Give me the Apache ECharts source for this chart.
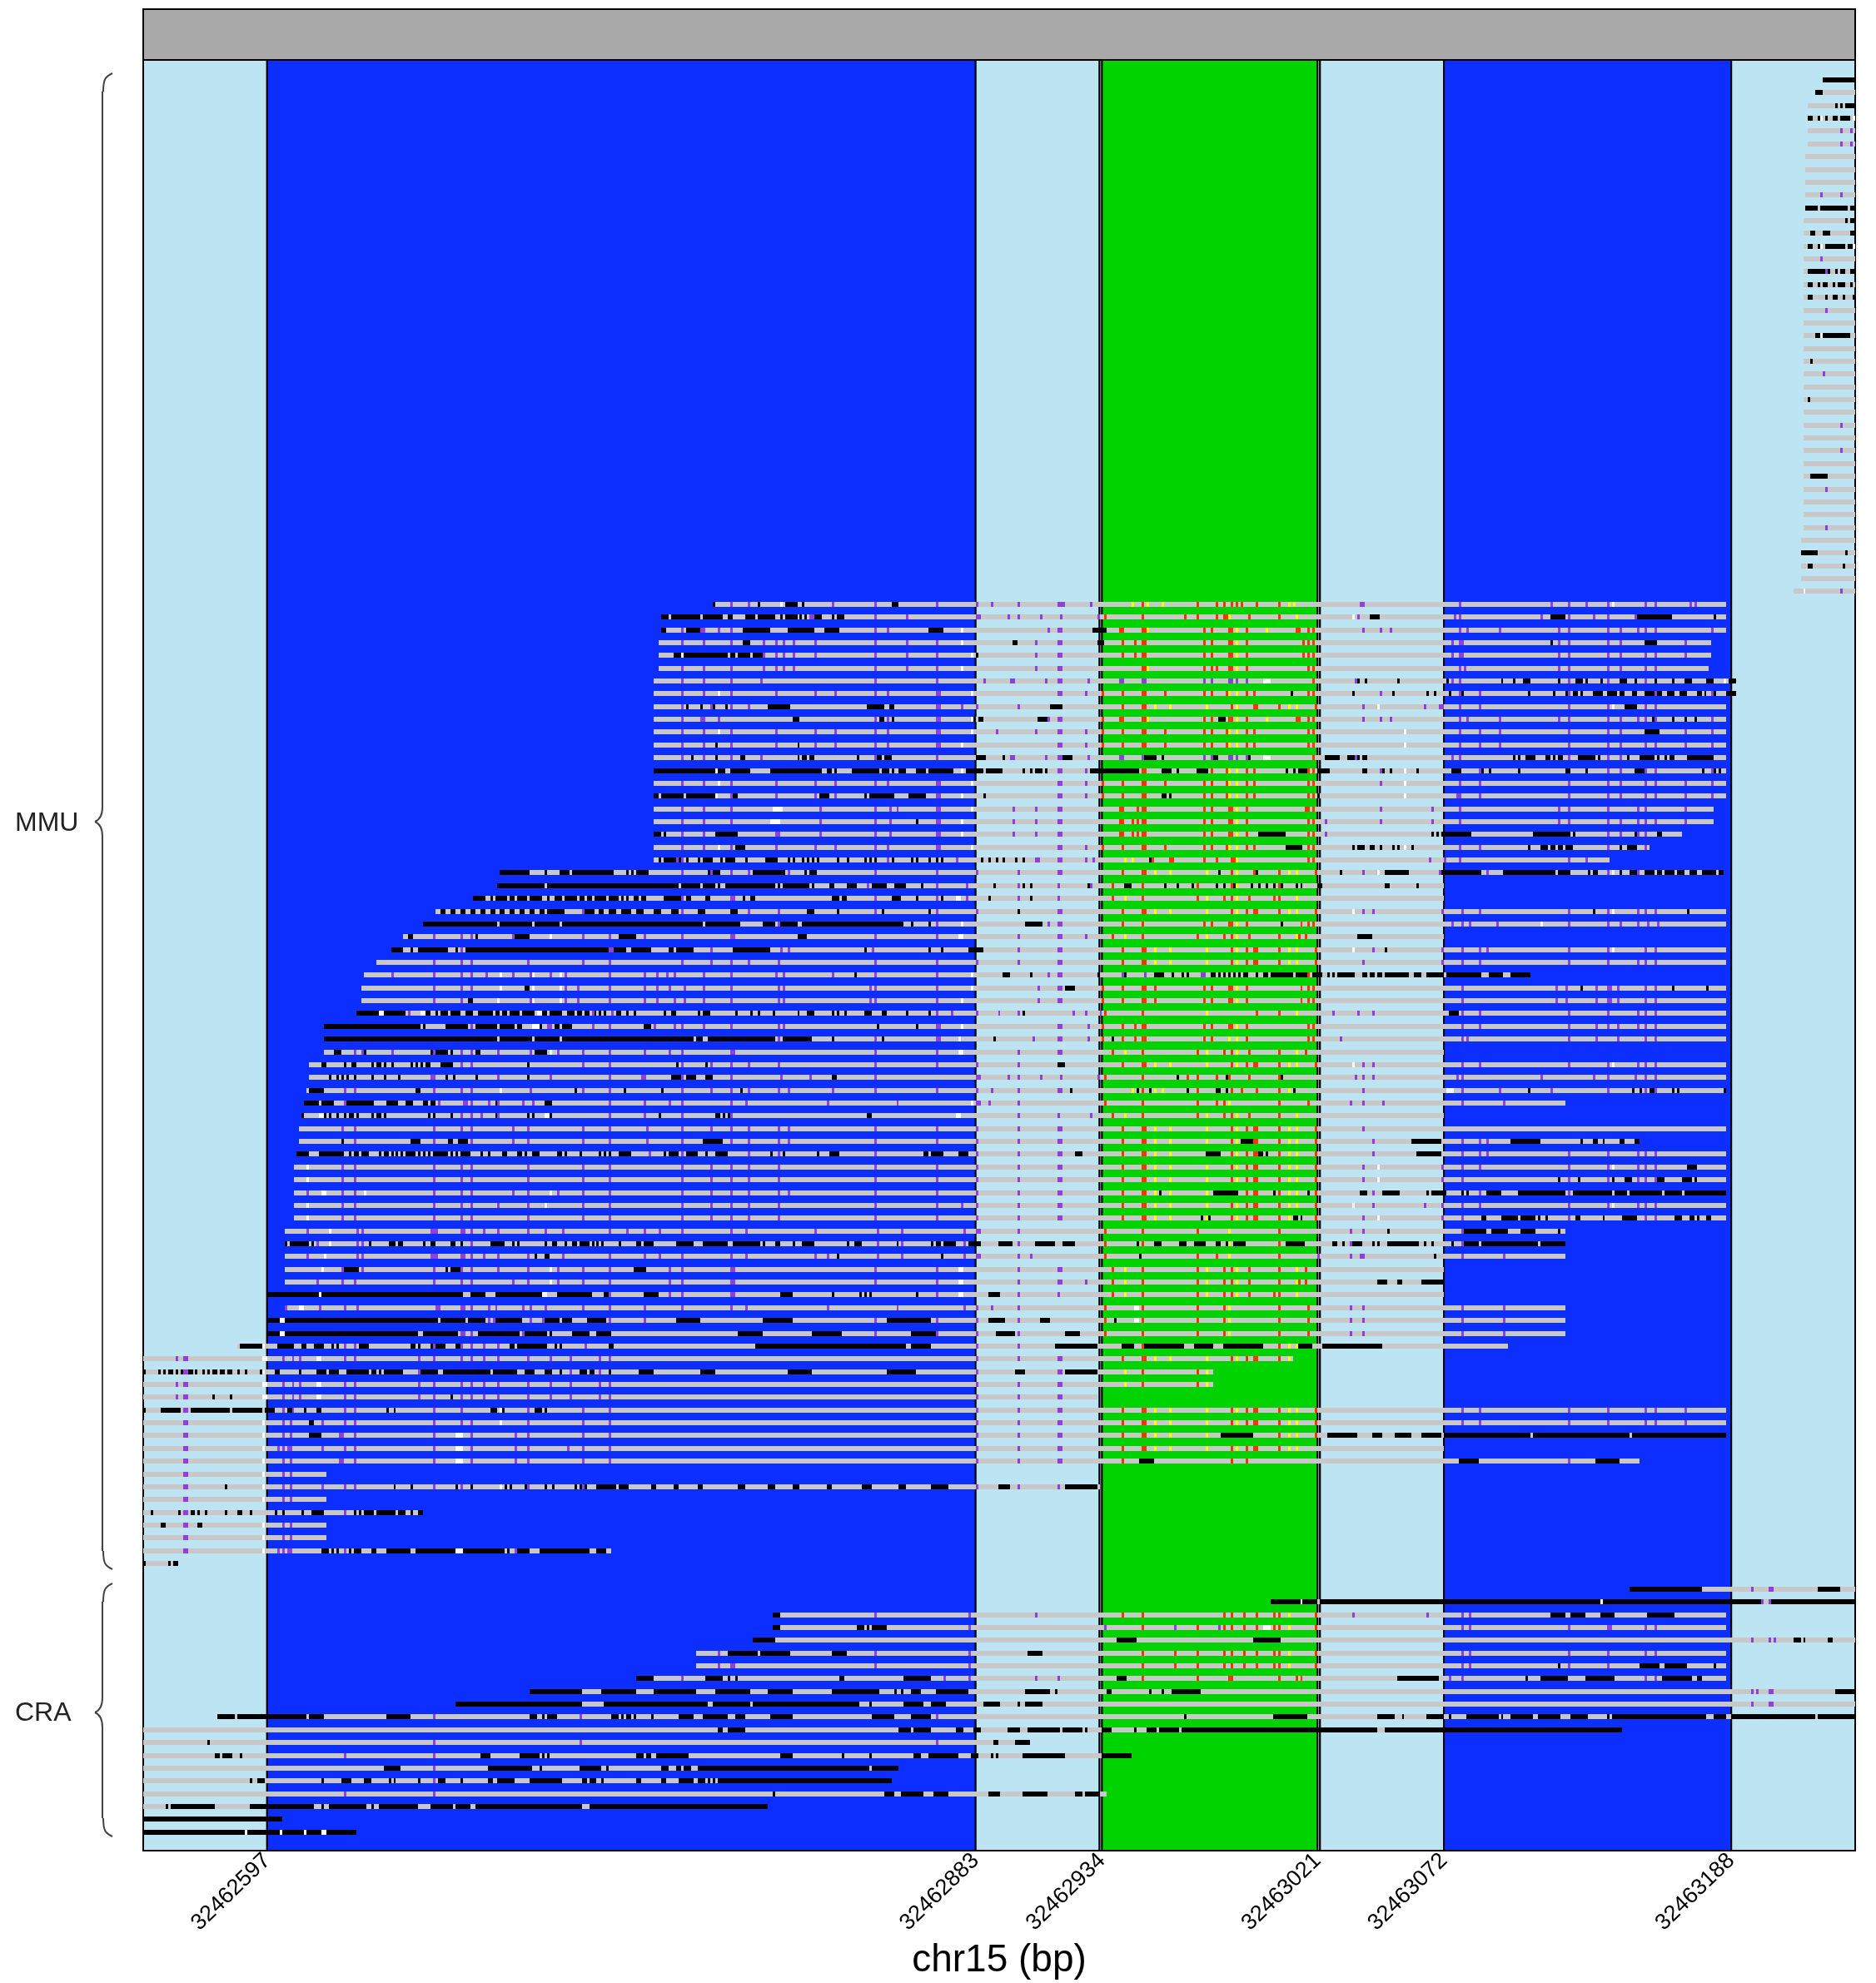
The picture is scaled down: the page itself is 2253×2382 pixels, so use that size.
<!DOCTYPE html>
<html><head><meta charset="utf-8"><style>html,body{margin:0;background:#fff}#c{width:2253px;height:2382px}</style>
<script src="https://cdn.jsdelivr.net/npm/echarts@6/dist/echarts.min.js"></script></head><body><div id="c"></div>
<script>
// All horizontal values are offsets in bp from axisOrigin; rows are read top to bottom.
const axisOrigin = 32462547, axisSpan = 691;
const tickOffsets = [50, 336, 387, 474, 525, 641];
const bandEdges = [[0,50],[50,336],[336,386],[386,387],[387,474],[474,475],[475,525],[525,641],[641,691]];
const bandKinds = ['intron','utr','intron','intron','exon','intron','intron','utr','intron'];
const rowStart = [678,675,672,672,672,672,671,671,671,671,671,670,670,670,670,670,670,670,670,670,670,670,670,670,670,670,670,670,670,670,670,670,670,670,670,670,669,669,669,669,666,
230,209,209,208,208,208,206,206,206,206,206,206,206,206,206,206,206,206,206,206,206,144,143,133,118,113,105,100,94,89,88,88,86,73,73,73,67,67,66,65,64,63,63,62,61,61,61,61,61,57,57,57,57,57,50,57,50,50,38,
0,0,0,0,0,0,0,0,0,0,0,0,0,0,0,0,0,null,600,455,254,254,246,223,223,199,156,126,30,0,0,0,0,0,0,0,0,0];
const rowEnd = [691,691,691,691,691,691,691,691,691,691,691,691,691,691,691,691,691,691,691,691,691,691,691,691,691,691,691,691,691,691,691,691,691,691,691,691,691,691,691,691,691,
639,639,639,633,633,632,643,643,639,639,639,639,639,639,639,639,634,634,621,608,592,638,525,525,639,639,525,639,639,560,639,639,639,639,639,525,639,639,639,574,525,639,604,639,639,639,639,639,639,574,574,574,525,525,525,574,574,574,551,
464,432,432,385,639,639,639,525,604,74,386,74,113,74,74,189,14,null,691,691,639,639,691,639,639,639,691,691,691,597,358,399,305,302,389,252,56,86];

// shared variant columns
const purpleLeft = [80,85,117,128,132,155,177,188,217,229,237,244,256,295,320,336];
const purpleMid = [353,369,370];
const purpleRight = [492,524,532,539,575,591,603,606,610];
const purpleB = [217,226,237,255,271,279,295,300,320,321];
const purpleC = [369,370,380,531,539,575,591,596,606,610,622,633];
const purpleD = [13,16,17,56,60,63,81,85,111,117,128,132,137,143,155,164,172,184,188];
const purpleE = [16,17,56,59];
const redA = [395,403,404,439,445,448,449,458,473];
const yellowA = [408,414,429,441,462,465];
const redB = [395,403,404,428,431,438,439,445,470,472];
const redC = [387,395,403,404,412,428,431,437,445,448,470,472];
const yellowC = [438,441];
const redD = [391,403,425,436,439,446,458];
const yellowD = [396,429,441,465];
const redE = [388,403,425,436,458,470];
const redF = [403,436,439,444,449,456,458,473];

const purpleMarks = [
[4,685,689],[5,685,689],[9,677,685],[14,677],[15,679],[18,679],[23,678],[27,685],[29,685],[32,679],[35,679],[40,685],
[41,237,244,278,295,320,336,342,353,[369,372],382,[491,493],531,568,575,582,591,606,610,624,626],
[42,[269,271],295,308,336,337,349,353,362,370,385,490,529,531,564,575,585,591,602],
[43,217,[225,227],232,237,295,300,365,369,370,492,499,503,531,534,547,571,575,591,596,603,606,610,633],
[44,217,226,237,250,255,258,262,271,295,308,320,360,369,370,528,531,532,571,575,591,596,622],
[45,250,255,258,262,271,295,308,320,360,369,370,528,531,532,571,575,591,596,606,610,622],
[46,217,226,237,250,255,258,262,295,308,320,360,369,370,531,533,571,575,591,596,606,610],
[47,217,226,237,249,295,320,339,350,351,364,369,370,381,394,395,403,404,428,431,438,439,441,445,489,528,531,575,591,606],
[48,...purpleB,...purpleC,499],
[49,217,229,237,244,320,321,330,336,353,492,517,523,524,531,539,575,591,606,610],
[50,217,225,226,232,295,300,320,321,365,369,370,492,499,503,531,534,547,571,575,591,596,603,606,610,633],
[51,...purpleB,344,360,369,370,380,531,539,547,575,591,596,622,633],
[52,...purpleB,369,370,380,531,539,547,575,591,596,606,610,622,633],
[53,217,226,237,249,295,320,350,351,364,369,370,381,394,395,403,428,431,438,439,441,445,489,528,531,575,591,596],
[54,369,370,380,499,531,539,591,596,606,610,633],
[55,...purpleB,...purpleC,499],[56,237,255,271,279,320,321,369,370,380,530,531,539,575,591,596,606,610,622,633],
[57,217,226,237,273,295,301,304,320,321,351,360,369,370,499,520,531,571,575,591,603,606,622],
[58,217,226,237,273,295,301,320,321,351,360,369,370,477,499,520,531,571,575,591,596,603,606,610,622],
[59,217,226,255,256,273,295,301,320,321,351,360,369,370,477,591,596,603,606],
[60,...purpleB,...purpleC],[61,215,217,300,328,360,361,369,370,380,383,519,525,531,575,582],
[62,217,229,237,244,260,295,320,336,353,369,370,492,523,542,591,603],
[63,217,292,320,332,353,369,382],[64,217,237,238,295,320,332,353,369],
[65,177,217,244,256,295,320,336,369,370,492,524,532,539,575,591,603,606,610,496],
[66,256,365,369,370,528,532,535,546,575,591,596,603,607,611,295,320],
[67,117,128,132,149,177,188,202,217,237,238,295,320,353,369,370,380],
[68,128,188,189,229,257,260,294,353,369,370,496,524,532,539,542,575,591,606,610],
[69,...purpleLeft,...purpleMid,...purpleRight],
[70,100,117,128,132,138,149,156,164,170,188,202,207,211,214,226,237,255,258,278,295,320,365,369,370,[395,396],[404,405],[427,429]],
[71,117,128,132,170,175,188,202,207,212,218,226,237,256,258,293,295,320,361,369,370,532,570,574,586,[591,593],595,606,610],
[72,117,128,156,170,175,188,202,207,214,218,226,237,256,258,293,295,320,361,369,370,532,570,574,586,[591,593],595,606,610],
[73,107,181,189,320,326,336,345,353,375,380,386,480,490,496,532,539,575,591,603,606,610],
[74,132,163,164,181,188,206,214,217,226,237,256,258,320,321,369,370,381,532,539,575,586,591,595,603,606,610],
[75,256,295,320,321,359,369,370,381,483,532,534,575,586,595,606,610],
[76,85,88,100,117,128,132,143,156,167,177,188,202,212,217,237,238,295,320,353,369,370],
[77,128,132,177,188,217,229,237,244,256,295,320,336,336,353,492,496,532,539,575,591,603,606,610],
[78,116,117,143,164,188,201,202,217,237,257,269,295,336,337,349,353,362,370,385,489,492,496,530,532,564,585,591,602,606,610],
[79,81,85,117,128,132,156,177,188,217,229,237,244,256,260,278,295,320,336,342,353,369,370,492,532,547,568,591,606,610],
[80,81,119,129,130,132,139,143,153,157,188,202,212,217,237,243,276,304,336,336,337,341,353,487,492,500,532,549],
[81,117,128,132,136,143,188,202,217,237,353,369,382],
[82,80,85,117,128,132,149,155,177,188,203,217,229,237,244,256,260,295,320,336,353,369,370,492],
[83,85,117,132,149,155,177,188,203,217,237,244,256,260,295,320,336,353,369,370,496,532,539,542,552],
[84,204,217,244,256,295,336,353,369,370,496,532,539,542,575,591,603,606,610],
[85,...purpleLeft,...purpleMid,...purpleRight],[86,...purpleLeft,...purpleMid,492,524,532,575,591,603,606,610],
[87,66,80,85,117,128,132,149,155,167,177,188,217,229,237,244,256,260,295,320,336,353,369,370,492,496,532,539,575],
[88,80,85,117,128,132,143,155,177,188,217,229,237,244,256,295,320,330,336,353,369,370,496,517,524,532,539,575,591,603,606,610],
[89,...purpleLeft,...purpleMid,492,524,532,575,606,610],
[90,66,86,88,116,117,118,128,129,132,137,143,155,162,169,188,195,202,208,217,237,243,271,296,306,331,[336,338],353,487,492,532],
[91,70,86,88,132,217,243,296,306,331,353,487,532],
[92,66,86,88,116,117,118,128,129,132,137,143,155,169,188,202,208,217,237,243,271,276,296,306,331,336,337,353,358,474,487,[491,493],532,549],
[93,80,88,117,128,132,143,155,167,177,188,212,217,[237,239],295,320,353,369,370],
[94,70,80,85,117,128,132,149,155,167,177,188,212,217,[237,239],295,320,353,369,370,380],
[95,188,212,217,[237,239],320,353,369],
[96,57,71,81,86,118,119,128,129,132,139,142,153,156,162,177,188,202,217,237,243,276,304,331,336,342,353,487,492,532,549],
[97,[16,17],139,141,156,161,188,202,295,320,336,353,487,492,532,549],
[98,[128,130],132,153,188,295,320,336,353,487,492,532,549],
[99,81,85,111,117,128,132,137,143,178,336,353,369,370],
[100,...purpleD,336,353,369,370],[101,16,17,111,172,184,336,353,369,370],[102,...purpleD,336,353,369,370],[103,...purpleD,336,353,369,370],
[104,16,17,56,60,81,85,117,128,155,177,188,336,353,369,370,532,539,575,591,606,610,622],
[105,16,17,56,59,72,81,85,117,128,132,155,177,188,336,353,369,370,532,539,575,591,606,610,622],
[106,16,17,56,59,[79,81],85,117,132,150,155,177,188,336,353,369,370],
[107,16,17,54,56,[58,60],72,81,85,117,132,150,155,171,177,188,336,353,369,370],
[108,16,17,56,59,[79,81],85,117,132,150,155,177,188,336,353,369,370,532,575],
[109,...purpleE],[110,...purpleE,72,81,85,117,128,132,155,177,188,336,353,369],[111,...purpleE],[112,16,17,81],[113,...purpleE],[114,...purpleE],
[115,16,17,54,56,[58,60],72,81,85,150],
[118,649,656,657],[119,653,656],
[120,295,333,360,488,518,532,535],[121,333,388,416,434,532,535,575,[591,593],606,610],[122,649,656,658],
[123,232,295,333,532,535,575,591,606,610],[124,232,[237,239],295,333,532,535,575,591],
[125,217,233,323,333,360,369,527,532,606,610],[126,649,651,656,657],[127,649,656,657],
[128,117,176,320],[130,117,176,320],[131,81,117],[132,117],[133,117],[134,81,117]
];
const redMarks = [
[41,403,425,433,436,439,441,443,449,458],[42,388,403,420,425,433,436,437,446,458],
[43,394,395,403,404,428,431,438,439,445,465,466,470,472],[44,...redB,400,468],[45,...redB,400,468],
[46,403,404,428,431,433,438,439,445,470,472],[47,472],
[48,...redC],[49,395,403,404,439,448,449,458,473],[50,387,394,395,403,404,428,431,438,439,445,465,466,470,472],
[51,...redC],[52,...redC],[53,472],[54,403,404,431,437,445,448,470,472],[55,...redC],[56,...redC],
[57,394,395,401,403,404,428,431,438,439,445,469,470,472],[58,...redB,394,399,401],[59,...redB,394,399,401],[60,...redC],
[61,407,414,415,428,433,439,440,470,472],[62,395,403,404,439,448,458,473],
[63,391,403,425,439,458],[64,391,403,425,436,439,446,456,458],[65,...redA],[66,395,403,428,431,438,439,445,467,470,472],
[67,...redD,465,466,469],[68,...redA],[69,...redA],[70,470],[71,387,395,403,404,408,428,431,438,439,445,467,470,472],
[72,387,395,403,404,408,428,431,438,439,445,467,470,472],[73,388,403,449,458],[74,387,395,400,403,404,428,431,438,439,445,470,472],
[75,387,395,400,403,404,428,431,438,445,470,472],[76,...redD,469],[77,...redA],[78,388,403,421,425,433,437,438,446,458],
[79,403,425,439,443,449,458],[80,...redE,433],[81,...redD],[82,...redA],[83,...redA],[84,...redA],[85,...redA],[86,...redA],[87,...redA],[88,...redA],[89,...redA],
[90,388,403,425,458],[91,388,403,458],[92,388,425,433,458],[93,...redD,469],[94,...redD,465,466,469],[95,...redD,456],[96,...redE],
[97,388,403,425,436,458,470],[98,388,403,425,436,458,470],[99,395,403,404,439,449,458],[100,...redA],[101,403,425,439],[102,403,425],
[104,...redA],[105,...redA],[106,395,403,404,439,445,458,473],[107,395,403,404,439,445,448,449,458],[108,395,403,404,439,445],
[120,395,...redF],[121,403,425,436,439,444,449,456,458,473],[123,...redF,416,425],[124,...redF,416,425],[125,403,425,[438,440],458,465,467]
];
const yellowMarks = [
[41,399,405,411,462,464],[42,438,465],[43,405,441,453],[44,441],[45,441],[46,405,441],[48,...yellowC],[49,408,414,429,441,462,465],[50,405,441,453],
[51,...yellowC],[52,...yellowC],[54,...yellowC],[55,...yellowC],[56,...yellowC],[57,441],[58,441],[59,441],[60,...yellowC],[61,396,399,441],
[62,...yellowA],[63,441],[64,396,429,441,465],[65,...yellowA],[66,441],[67,...yellowD],[68,...yellowA],[69,...yellowA],[71,441],[72,441],[73,429,465],
[74,441],[75,438,441],[76,...yellowD],[77,...yellowA],[79,399,408,411,462],[80,438],[81,...yellowD],[82,...yellowA],[83,...yellowA],[84,...yellowA],[85,...yellowA],
[86,...yellowA],[87,...yellowA],[88,...yellowA],[89,...yellowA],[90,438],[91,438],[92,438],[93,...yellowD],[94,...yellowD],[95,...yellowD],[96,438],
[97,438],[98,438],[99,...yellowA],[100,...yellowA],[101,396,429],[102,396,429],[104,...yellowA],[105,...yellowA],[106,...yellowA],[107,...yellowA],
[120,462],[121,462],[123,462],[124,462]
];
const whiteMarks = [
[3,677,690],[13,677,690],[20,677],[40,670],[41,257,593],[42,488],[43,330],[44,330],[45,217,334],[46,330],[47,[452,455],638],
[48,232,334],[49,498,593],[50,334],[51,232,334,509],[52,231,330,509],[53,[452,455]],[54,231,330,509],[55,232,334,509],[56,231,330,509],
[57,[254,258],334],[58,[253,257],330],[59,330],[60,232,334,509],[62,498,593],[64,[328,330]],[65,488,593],[66,330,564],[67,164,[329,331]],[68,593,488],
[70,144,157,168,334],[71,144,157,168,334],[72,143,157,168,330],[73,[95,97],[112,114],[159,161]],[74,[157,160],330],[75,329],[76,164,[329,331]],
[77,488,593],[79,144,[526,529]],[80,334],[81,[71,73],[162,164],[328,330]],[85,66,498,593],[86,66,498],[87,[72,74],89,164],[88,66,162,488,593],[89,66,498],
[90,75],[91,75],[92,73],[93,72,164,[329,331]],[94,164,[329,331]],[95,71,[161,163],[329,331]],[96,[63,65],[400,402],[71,72]],
[97,[55,57],[400,402]],[98,[55,57]],[99,48],[100,48,49,70,71],[101,48,[70,72]],[102,48,49,70,71],[103,48,49,70,71],
[104,144],[105,48,144],[106,48,[126,129]],[107,48,[126,129]],[108,48,[126,129]],[109,48],[110,48,144],[111,48],[113,48],[114,48],[115,48,[126,129]],
[119,467,588],[137,41,55,65,[72,74]],[121,[452,455]]
];
const blackMarks = [
[0,[678,691]],[1,[675,678]],[2,683,685,[687,691]],[3,[672,674],676,679,[682,684],[685,689]],
[10,[671,676],[677,688],[689,691]],[11,687,[689,691]],[12,[673,675],[678,681],[689,691]],[13,[672,674],676,[679,687],[688,690]],
[15,[672,679],680,683,[685,687],[689,691]],[16,[672,674],676,[678,680],682,[684,687],689],[17,[672,674],679,[682,684],686,[690,691]],
[20,[675,677],[678,689]],[22,673],[25,672],[31,[673,680]],[37,[669,676],687],[38,[672,674],686],
[41,230,248,[259,264],266,[302,305]],
[42,[209,212],[213,225],[226,234],[236,238],[243,247],[248,255],257,[259,264],265,267,[271,274],278,[280,283],[495,499],[568,574],[603,617],634],
[43,[209,211],[219,225],[242,253],[260,271],[275,281],[317,323],[383,389]],
[44,[242,245],[351,353],[385,388],568,[606,610],610],
[45,[214,217],[218,236],[237,239],[240,245],[246,250],336],
[47,490,493,506,526,548,553,[557,560],571,[578,581],582,588,[596,599],602,610,617,[622,625],[631,634],[640,643]],
[48,463,488,504,518,521,527,532,559,569,574,[577,579],580,[585,589],[591,595],[596,598],[601,603],[606,610],611,612,[615,618],[620,622],622,[627,629],630,634,[639,643]],
[49,219,225,230,235,[252,261],[292,299],[301,303],[366,371],[598,603]],
[50,[262,265],[297,299],302,335,[337,339],[361,365],[434,437],609,617,622,626],
[51,[606,612]],[52,231,264],[53,221,231,[241,243],264,[266,268],[269,271],288,[296,298],[299,302],[336,340],347,[371,375],[404,409],411,[432,434],446,[477,483],[486,489],490,[492,494],553,555,[558,562],[566,568],569,[571,573],[579,586],587,599,[604,610],611,614,[616,618],[623,634]],
[54,[206,231],[232,235],[237,245],[253,258],[258,274],[276,278],279,[286,297],[298,301],302,[305,308],[312,316],[317,327],[332,339],[340,347],355,358,[360,363],364,[382,402],[411,415],417,[425,430],461,464,[466,470],[474,479],[492,494],500,503,514,[528,532],540,543,555,[574,576],582,[602,606],629,634,636],
[56,[206,208],[209,218],[219,231],[238,240],[273,277],291,[293,303],[309,316],[312,316],339,[411,413],414,474],
[58,312],[59,[206,209],210,[231,240],[450,461],[520,521],522,[524,536],[561,565],[565,576],577,602,[611,613]],
[60,[239,243],[461,468],488,[490,493],495,496,499,504,506,512,559,[564,567],[568,570],[571,573],[574,577],596,[599,603]],
[61,208,[210,215],216,219,224,[226,230],233,[235,239],243,[251,256],260,262,266,268,270,272,280,284,291,293,295,302,310,312,317,320,322,338,341,344,347,352,355,406],
[62,[144,156],162,[168,172],[173,190],195,197,[199,204],228,[230,233],[246,259],267,[269,272],434,449,483,[501,511],[524,540],[549,558],[558,570],[571,576],583,[585,587],[596,597],[600,603],[606,610],[611,613],[614,618],[619,622],[624,627],[629,635],[636,638]],
[63,[143,162],[163,216],[217,225],[226,231],232,[235,255],256,[258,269],270,[277,279],[284,288],294,[295,300],[303,308],314,343,355,358,381,[396,399],412,417,423,433,436,440,447,450,453,456,459,465,467,[474,476],[501,503],514],
[64,[133,138],140,[142,147],[148,150],[151,155],[156,161],163,[166,169],[170,175],[176,178],[179,181],[182,187],[188,192],193,195,[198,200],[201,203],[210,217],[219,221],[227,229],[242,243],[245,247],[278,281],[282,284],[302,306],312,322,341,358],
[65,[120,122],[124,126],[128,130],[132,134],[136,138],[140,142],[144,146],[148,150],[152,154],[156,158],[160,162],[163,170],[178,182],[184,186],[188,191],[193,197],[199,202],[206,209],[213,216],[224,227],[237,240],[268,271],280,298,317,353,[585,586],[623,624]],
[66,[113,143],[144,157],[158,168],[169,226],[227,241],[250,255],[257,264],[266,307],310,317,[356,363],459],
[67,[107,109],134,[150,156],[192,199],[264,268],[490,496]],
[68,[100,105],108,[111,123],126,[130,188],[190,195],[197,205],[212,214],[215,222],[238,241],[241,253],291,317,322,[333,339],[336,339],501],
[70,287,[347,350],358,385,396,[408,412],415,419,421,[431,433],434,436,438,440,442,[444,446],449,[452,454],[455,464],[465,470],[472,476],478,480,[482,489],[492,494],[495,497],[498,500],[501,511],[513,516],[518,525],[526,540],[543,549],[552,560]],
[71,[154,156],[372,376],580,617,631],[72,[131,133]],
[73,[86,95],[97,106],[114,116],118,[120,123],[124,128],[130,133],[135,141],[142,144],[145,147],[148,152],[153,158],[161,163],[164,169],[171,174],[175,177],[178,180],182,184,186,[191,193],195,198,210,[213,215],224,[226,229],239,245,248,254,264,[268,271],278,280,283,[291,294],[298,300],308,317,355,[527,531]],
[74,[73,112],113,[122,131],[134,143],[144,150],[151,153],160,[166,168],[169,173],[202,205],296,312],
[75,[73,143],[144,157],[158,168],[169,222],[223,226],[228,255],[258,270],278,298,343,391],
[76,[77,80],89,116,[118,123],124,[134,136],[158,163]],
[77,[72,74],81,[84,86],92,[94,96],97,100,108,110,112,[114,116],[120,125],155,215,227,[369,372]],
[78,75,78,80,82,85,92,97,103,122,125,134,155,[213,217],[219,223],[227,230],[278,280],417,437,459],
[79,[67,73],[110,112],174,194,209,241,374,401,406,421,[433,435],437,464,559,601,604,[608,610],617,619,638],
[80,[65,71],[72,77],[82,93],[98,103],[106,109],[113,115],[116,118],142,[162,164],164],
[81,64,73,75,78,81,[83,85],86,92,[94,96],97,115,117,124,142,155,157,164,208,[231,233],234,236,[292,294]],
[83,80,[108,112],[123,125],[127,131],[226,234],[443,448],[512,524],[552,564],580,[585,587],589,[596,598],[602,604]],
[84,[62,67],[71,73],[73,75],[75,81],83,[85,87],[88,91],95,[97,99],100,102,104,[106,110],111,113,115,[117,123],124,126,[128,132],136,139,[145,147],[151,153],154,157,[158,160],[167,169],170,176,184,186,188,[192,197],210,[212,216],[219,224],227,[231,236],253,258,272,[277,281],[315,317],[318,323],[329,333],[376,379],[429,435],[450,452],453,[514,524]],
[85,[623,627]],[86,571,579,[593,594],[598,601],[611,614],[621,625],626],
[87,410,[432,442],456,470,[491,494],[500,507],518,[520,526],532,534,[542,548],[555,574],[577,593],[594,599],[600,613],[614,621],[622,639]],
[89,427,430,[464,466],467,[540,542],[548,555],[556,562],563,566,[578,580],589,[597,603],[618,621],[624,626],627,[631,633]],
[90,502,[533,542],[544,551],[556,562],571],
[91,57,59,[60,67],68,91,[99,102],[103,105],113,[116,118],[124,126],128,[140,146],149,151,162,[165,167],170,[173,175],[176,180],181,183,185,192,[199,201],[202,206],[215,222],[226,236],[238,249],250,[255,257],262,[266,271],284,[287,290],304,318,[320,322],[323,328],[333,338],[345,351],[360,368],[371,376],401,[408,411],[418,421],[424,429],[433,435],437,[440,445],[461,469],[480,482],484,[488,492],496,498,[502,515],517,520,528,[533,539],[540,563],[564,574]],
[92,158,[162,164],280,322,402,521],
[93,[81,87],122,[124,128],[198,203]],[94,[498,502],[506,508],[516,525]],
[95,[50,71],[72,129],[132,138],[142,161],[167,181],[186,188],[202,208],[257,262],278,289,291,293,312,[341,346]],
[97,[50,55],[57,119],[120,130],[131,138],[142,153],[162,168],[169,173],[179,187],[215,225],[250,262],[300,318],[341,348],[362,366],392],
[98,[50,55],[57,111],[113,127],[135,152],[154,163],164,[173,180],183,[184,189],[240,250],[270,282],[310,320],[344,352],[372,378]],
[99,[39,48],[54,61],[64,66],[69,73],76,78,[87,91],[108,110],111,116,[118,122],[126,128],[148,150],[151,163],166,168,[188,190],[247,308],[310,318],[368,385],[395,400],[404,420],[424,432],[436,452],[466,472],[476,500]],
[101,0,6,8,[10,12],13,15,[18,20],21,24,26,[28,30],[31,33],[34,36],38,41,47,[53,55],63,[70,72],[72,74],[75,79],[82,91],[92,94],95,[97,105],[112,119],[121,140],[141,151],[154,158],[162,165],168,[176,179],[180,182],188,[200,206],[225,231],[260,270],[300,312],[352,356],[372,385]],
[103,28,35,124],
[104,0,[7,15],[19,35],[36,48],[49,53],[58,60],65,[70,72],98,101,[140,143],[145,146],[158,161],162],
[105,[67,69]],[106,[67,72],[435,448],[478,490],[496,500],[505,512],[516,524],[525,560],[561,600],[601,639]],
[108,[402,408],[531,539],[586,596]],
[110,33,[192,196],[205,207],[214,216],[224,226],[240,243],[252,255],[262,265],[276,278],[290,294],[305,308],[318,325],[345,350],[372,385],101,108,126,132,146,148,154,162,165,174,176,178,[183,191]],
[112,3,14,[19,21],22,25,33,[38,40],43,[53,54],56,64,68,[69,73],85,87,[89,93],[94,102],[103,106],108,[111,113]],
[113,[7,9],[22,24]],
[115,[72,75],76,78,83,85,[86,88],[92,94],[98,108],[110,126],[129,146],147,[151,156],[160,180],[183,187]],
[116,0,10,[12,14]],
[118,[600,629],[676,683],[683,685]],
[119,[455,467],[468,474],[475,588],[589,653],[657,691]],
[120,[254,257],[568,574],[576,582],[588,594],[607,618]],
[121,[254,257],[288,291],292,[294,300]],
[122,[246,255],[393,401],[448,459],[666,669],670,[680,682]],
[123,[236,248],[249,261],[278,284],[357,363]],
[124,571,[604,612],[614,623],634],
[125,[199,206],[227,234],236,239,[281,283],[307,318],[393,397],[506,523],558,[564,575],[582,594],[613,625],[627,629]],
[126,[156,177],[185,199],[206,223],[231,245],[252,262],[278,297],303,306,[310,314],[320,333],[356,366],368,[389,391],406,411,[415,427],[683,691]],
[127,[126,177],[186,228],[230,245],[246,278],[278,289],293,[307,315],[318,324],[339,346],353,[356,363]],
[128,[30,37],[38,66],[67,73],[98,108],[156,159],161,[163,167],[189,192],193,[195,197],198,205,[216,222],[226,236],[239,243],[253,262],[294,303],[310,318],420,[456,470],[498,505],508,[518,525],527,[534,547],548,[552,561],[563,572],[576,583],591,[593,631],[634,639],[641,675],[676,691]],
[129,[232,234],[236,243],[305,310],[311,318],[328,331],[335,338],[349,354],[357,370],[371,379],380,[387,391],400,[405,409],[410,418],[419,498],[501,597]],
[130,26,[343,345],[352,358]],
[131,[29,31],[32,36],39,[136,140],[152,160],161,163,[199,202],[203,205],[207,220],[257,262],282,293,[311,314],[317,329],[334,337],342,344,[355,372],[387,399]],
[132,[97,104],[139,157],160,[176,178],[178,185],187,[209,212],[215,217],[218,221],[224,293],[294,305]],
[133,43,[46,49],72,[80,84],[89,92],99,101,111,[119,122],128,[139,141],[143,150],156,[157,169],[177,179],[180,183],185,[199,201],[209,211],[216,222],[224,227],228,230,[232,302]],
[134,254,[299,303],[306,315],[319,325],[341,346],[355,365],[376,379],[380,386]],
[135,9,[11,29],[43,69],72,[75,90],92,[95,111],[116,125],[126,132],[134,177],[180,252]],
[136,[0,56]],
[137,[0,41],[42,55],[56,65],[66,72],[74,86]]
];
const partColors = {intron:'#bde4f2', utr:'#0c2eff', exon:'#00d300'};
const readColors = {gray:'#c8c8c8', white:'#ffffff', purple:'#8f40d8', red:'#ff3300', yellow:'#ffff00', black:'#000000'};

function expand(table, kind, out){
  table.forEach(function(r){
    var row = r[0];
    r.slice(1).forEach(function(it){
      if (Array.isArray(it)) { if (it.length===2) out.push([row, it[0], it[1], kind]); }
      else out.push([row, it, it+1, kind]);
    });
  });
}
var reads = [];
rowStart.forEach(function(s,i){ if (s!==null) reads.push([i, s, rowEnd[i], 'gray']); });
expand(whiteMarks,'white',reads);
expand(purpleMarks,'purple',reads);
expand(redMarks,'red',reads);
expand(yellowMarks,'yellow',reads);
expand(blackMarks,'black',reads);
// draw marks only inside their read
reads = reads.map(function(d){
  var s=rowStart[d[0]], e=rowEnd[d[0]];
  if (s===null) return null;
  return [d[0], Math.max(d[1],s), Math.min(d[2],e), d[3]];
}).filter(function(d){return d && d[2]>d[1];});
reads = reads.map(function(d){ return [d[0], d[1]+axisOrigin, d[2]+axisOrigin, d[3]]; });
var bands = bandEdges.map(function(b){ return [b[0]+axisOrigin, b[1]+axisOrigin, 0]; });

function brace(y0,ym,y1){
  var ln = {stroke:'#444',lineWidth:2,fill:null};
  var bz=function(x1,y1_,c1x,c1y,c2x,c2y,x2,y2){return {type:'bezierCurve',shape:{x1:x1,y1:y1_,cpx1:c1x,cpy1:c1y,cpx2:c2x,cpy2:c2y,x2:x2,y2:y2},style:ln,silent:true};};
  var li=function(a,b){return {type:'line',shape:{x1:123,y1:a,x2:123,y2:b},style:{stroke:'#444',lineWidth:2},silent:true};};
  return [
    bz(135,y0,127,y0+4,124,y0+6,124,y0+22), li(y0+22,ym-18),
    bz(123,ym-18,123,ym-6,119,ym-2,114,ym), bz(114,ym,119,ym+2,123,ym+6,123,ym+18),
    li(ym+18,y1-22), bz(124,y1-22,124,y1-6,127,y1-4,135,y1)
  ];
}
var chart = echarts.init(document.getElementById('c'),null,{renderer:'canvas',width:2253,height:2382});
chart.setOption({
  animation:false,
  backgroundColor:'#ffffff',
  grid:[
    {left:172,top:72,width:2056,height:2151,show:false,outerBoundsMode:'none'},
    {left:172,top:11,width:2056,height:61,show:true,backgroundColor:'#a9a9a9',borderColor:'#000',borderWidth:2,outerBoundsMode:'none'}
  ],
  xAxis:[
    {type:'value',gridIndex:0,min:axisOrigin,max:axisOrigin+axisSpan,position:'bottom',
     splitLine:{show:false},axisLine:{show:false},
     axisTick:{show:true,length:21,lineStyle:{color:'#333',width:2},customValues:tickOffsets.map(function(t){return t+axisOrigin;})},
     axisLabel:{show:true,rotate:44,margin:8,fontFamily:'Liberation Sans',fontSize:27,color:'#000',hideOverlap:false,
       customValues:tickOffsets.map(function(t){return t+axisOrigin;}),formatter:function(v){return String(v);}},
     name:'chr15 (bp)',nameLocation:'middle',nameGap:109,nameTextStyle:{fontFamily:'Liberation Sans',fontSize:46,color:'#000'}},
    {type:'value',gridIndex:1,min:0,max:1,show:false}
  ],
  yAxis:[
    {type:'value',gridIndex:0,inverse:true,min:-1.56,max:138.45,show:false},
    {type:'value',gridIndex:1,min:0,max:1,show:false}
  ],
  series:[
    {type:'custom',name:'bands',coordinateSystem:'cartesian2d',xAxisIndex:0,yAxisIndex:0,silent:true,clip:false,z:1,
     encode:{x:[0,1],y:2},data:bands,
     renderItem:function(p,api){
       var a=api.coord([api.value(0),-1.56]), b=api.coord([api.value(1),138.45]);
       return {type:'rect',shape:{x:a[0],y:a[1],width:b[0]-a[0],height:b[1]-a[1]},
         style:{fill:partColors[bandKinds[p.dataIndex]],stroke:'#000',lineWidth:2}};
     }},
    {type:'custom',name:'reads',coordinateSystem:'cartesian2d',xAxisIndex:0,yAxisIndex:0,silent:true,clip:true,z:2,
     encode:{x:[1,2],y:0},data:reads,
     renderItem:function(p,api){
       var row=api.value(0), a=api.coord([api.value(1),row]), b=api.coord([api.value(2),row]);
       var h=6, y=Math.round(a[1]-h/2), x0=Math.round(a[0]), x1=Math.round(b[0]);
       return {type:'rect',shape:{x:x0,y:y,width:Math.max(x1-x0,2),height:h},style:{fill:readColors[api.value(3)]}};
     }}
  ],
  graphic:[].concat(
    brace(88,987,1885),
    brace(1902,2057,2206),
    [{type:'text',left:18,top:973,style:{text:'MMU',font:'32px "Liberation Sans"',fill:'#222'},silent:true},
     {type:'text',left:18,top:2042,style:{text:'CRA',font:'32px "Liberation Sans"',fill:'#222'},silent:true}]
  )
});
</script></body></html>
